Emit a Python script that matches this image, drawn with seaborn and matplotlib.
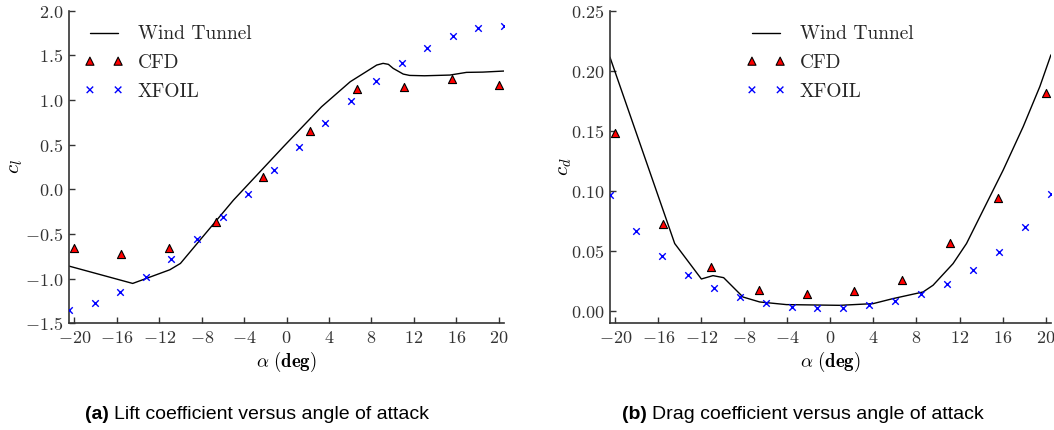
import numpy as np
import pandas as pd
import seaborn as sns
import matplotlib
matplotlib.use("Agg")
import matplotlib.pyplot as plt
from matplotlib.ticker import FuncFormatter
from matplotlib.offsetbox import TextArea, HPacker, AnnotationBbox
from matplotlib.collections import PathCollection
from matplotlib.legend_handler import HandlerPathCollection

# ---------------- data ----------------
alpha_xfoil = [-20.5, -18.09, -15.68, -13.26, -10.85, -8.44, -6.03, -3.62, -1.21,
               1.21, 3.62, 6.03, 8.44, 10.85, 13.26, 15.68, 18.09, 20.5]
cl_xfoil = [-1.35, -1.277, -1.150, -0.982, -0.780, -0.560, -0.307, -0.053, 0.216,
            0.477, 0.739, 0.989, 1.213, 1.418, 1.586, 1.720, 1.806, 1.832]
cd_xfoil = [0.0967, 0.0669, 0.0458, 0.0303, 0.0194, 0.0119, 0.0069, 0.0039, 0.0025,
            0.0028, 0.0050, 0.0089, 0.0144, 0.0225, 0.0342, 0.0497, 0.0703, 0.098]

alpha_cfd = [-20.0, -15.56, -11.11, -6.67, -2.22, 2.22, 6.67, 11.11, 15.56, 20.0]
cl_cfd = [-0.661, -0.728, -0.661, -0.370, 0.141, 0.656, 1.120, 1.142, 1.235, 1.164]
cd_cfd = [0.148, 0.0725, 0.0369, 0.018, 0.0144, 0.0172, 0.0258, 0.057, 0.094, 0.182]

alpha_wt_lift = [-20.5, -14.5, -11.0, -10.0, -5.0, -0.3, 3.3, 6.0, 7.5, 8.5, 9.1,
                 9.6, 10.05, 11.0, 11.6, 13.0, 15.4, 16.96, 18.5, 20.5]
cl_wt = [-0.859, -1.053, -0.90, -0.829, -0.12, 0.477, 0.925, 1.205, 1.317, 1.392, 1.411,
         1.40, 1.355, 1.291, 1.276, 1.272, 1.28, 1.31, 1.313, 1.325]

alpha_wt_drag = [-20.5, -14.48, -12.0, -10.92, -9.93, -8.13, -6.58, -4.1, 0.86, 3.96,
                 5.82, 8.61, 9.54, 11.4, 12.65, 14.2, 16.06, 17.92, 19.47, 20.5]
cd_wt = [0.2114, 0.0564, 0.0269, 0.0297, 0.028, 0.0119, 0.0078, 0.0056, 0.005, 0.0064,
         0.0106, 0.0161, 0.0217, 0.0397, 0.0564, 0.0842, 0.1175, 0.1536, 0.187, 0.2133]

x_ticks = [-20, -16, -12, -8, -4, 0, 4, 8, 12, 16, 20]
cl_ticks = [-1.5, -1.0, -0.5, 0.0, 0.5, 1.0, 1.5, 2.0]
cd_ticks = [0.00, 0.05, 0.10, 0.15, 0.20, 0.25]

series_names = ["Wind Tunnel", "CFD", "XFOIL"]
captions = [("(a)", "Lift coefficient versus angle of attack"),
            ("(b)", "Drag coefficient versus angle of attack")]

# ---------------- style ----------------
sns.set_theme(style="ticks")
plt.rcParams["mathtext.fontset"] = "cm"
plt.rcParams["font.family"] = ["DejaVu Sans"]

TICK_COLOR = "#333333"

fig = plt.figure(figsize=(10.54, 4.30), dpi=100)
ax_l = fig.add_axes([0.0655, 0.248, 0.4127, 0.727])
ax_r = fig.add_axes([0.5787, 0.248, 0.4184, 0.727])


def draw_panel(ax, a_wt, y_wt, y_cfd, y_xf):
    sns.lineplot(x=a_wt, y=y_wt, ax=ax, color="black", lw=1.0, sort=False,
                 estimator=None, label=series_names[0])
    sns.scatterplot(x=alpha_cfd, y=y_cfd, ax=ax, marker="^", s=34, color="red",
                    edgecolor="black", linewidth=0.8, label=series_names[1], zorder=3)
    sns.scatterplot(x=alpha_xfoil, y=y_xf, ax=ax, marker="x", s=22, color="blue",
                    linewidth=1.0, label=series_names[2], zorder=3)


draw_panel(ax_l, alpha_wt_lift, cl_wt, cl_cfd, cl_xfoil)
draw_panel(ax_r, alpha_wt_drag, cd_wt, cd_cfd, cd_xfoil)


def fmt(decimals):
    def f(v, pos):
        s = f"{v:.{decimals}f}"
        return f"${s}$"
    return FuncFormatter(f)


for ax, yt, dec, ylab, ylim, lx, ylx in [
        (ax_l, cl_ticks, 1, r"$c_l$", (-1.5, 2.0), 0.048, -0.101),
        (ax_r, cd_ticks, 2, r"$c_d$", (-0.01, 0.25), 0.322, -0.081)]:
    ax.set_xlim(-20.5, 20.5)
    ax.set_ylim(*ylim)
    ax.set_xticks(x_ticks)
    ax.set_yticks(yt)
    ax.xaxis.set_major_formatter(fmt(0))
    ax.yaxis.set_major_formatter(fmt(dec))
    ax.tick_params(direction="in", length=4, width=1.0, color=TICK_COLOR,
                   labelcolor=TICK_COLOR, labelsize=13, pad=4)
    for side in ("top", "right"):
        ax.spines[side].set_visible(False)
    for side in ("left", "bottom"):
        ax.spines[side].set_color(TICK_COLOR)
        ax.spines[side].set_linewidth(1.2)
    ax.set_xlabel(r"$\alpha\ \mathbf{(deg)}$", fontsize=13.5, color="black", labelpad=2)
    ax.set_ylabel(ylab, fontsize=15, color="black")
    ax.yaxis.set_label_coords(ylx, 0.5)
    ax.legend(loc="upper left", bbox_to_anchor=(lx, 0.953), frameon=False,
              scatterpoints=2, scatteryoffsets=[0.5], handlelength=1.45,
              handletextpad=1.0, labelspacing=0.55, borderaxespad=0, borderpad=0,
              handler_map={PathCollection: HandlerPathCollection(marker_pad=0)},
              prop={"family": "cmr10", "size": 14})

# sub-figure captions
cap_props = dict(family="Liberation Sans", size=14, color="black")
for (tag, text), xc in zip(captions, [0.244, 0.762]):
    box = HPacker(children=[TextArea(tag, textprops=dict(weight="bold", **cap_props)),
                            TextArea(text, textprops=cap_props)],
                  align="baseline", pad=0, sep=4)
    ab = AnnotationBbox(box, (xc, 0.036), xycoords="figure fraction",
                        frameon=False, box_alignment=(0.5, 0.5))
    fig.add_artist(ab)

fig.savefig("out.png", dpi=100)
